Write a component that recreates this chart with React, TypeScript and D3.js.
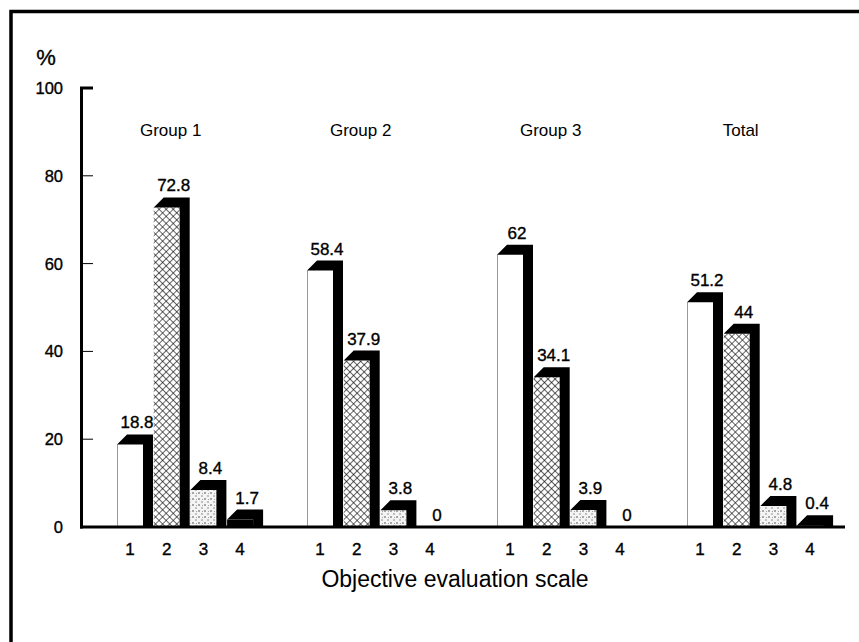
import React from 'react';
import * as d3 from 'd3';

// data
const groups = ['Group 1', 'Group 2', 'Group 3', 'Total'];
const scaleCats = ['1', '2', '3', '4'];
const values: number[][] = [
  [18.8, 72.8, 8.4, 1.7],
  [58.4, 37.9, 3.8, 0],
  [62, 34.1, 3.9, 0],
  [51.2, 44, 4.8, 0.4],
];
const yTicks = [0, 20, 40, 60, 80, 100];

const W = 859;
const H = 642;
const FONT = '"Liberation Sans", Arial, Helvetica, sans-serif';
const FRONT = 26;
const DEPTH = 10;

const App: React.FC = () => {
  const y = d3.scaleLinear().domain([0, 100]).range([527, 88]);
  const xGroup = d3.scaleBand().domain(groups).range([98, 858]);
  const xBar = d3.scaleBand().domain(scaleCats).range([19, 19 + 4 * 36.7]);

  const fills = ['#fff', 'url(#hatch)', 'url(#stipple)', '#000'];

  const bars = groups.flatMap((g, gi) =>
    scaleCats.map((c, ci) => {
      const v = values[gi][ci];
      const x0 = (xGroup(g) ?? 0) + (xBar(c) ?? 0);
      return { g, c, v, x0, ci };
    })
  );

  // scanned text looks a bit heavier than plain Arial
  const ink = { stroke: '#000', strokeWidth: 0.35 };

  return (
    <svg width={W} height={H} style={{ position: 'absolute', left: 0, top: 0 }} fontFamily={FONT}>
      <defs>
        <pattern id="hatch" width={5} height={5} patternUnits="userSpaceOnUse" patternTransform="rotate(45)">
          <rect width={5} height={5} fill="#fff" />
          <line x1={0} y1={0} x2={0} y2={5} stroke="#000" strokeWidth={1.2} />
          <line x1={0} y1={0} x2={5} y2={0} stroke="#000" strokeWidth={1.2} />
        </pattern>
        <pattern id="stipple" width={6} height={6} patternUnits="userSpaceOnUse">
          <rect width={6} height={6} fill="#f4f4f4" />
          <circle cx={1} cy={1} r={0.8} fill="#444" />
          <circle cx={4} cy={4} r={0.7} fill="#666" />
          <circle cx={4.5} cy={1.5} r={0.5} fill="#888" />
        </pattern>
      </defs>
      <rect width={W} height={H} fill="#fff" />

      {/* frame */}
      <path d={`M11,${H} L11,11.5 L${W},11.5`} fill="none" stroke="#000" strokeWidth={3.5} />

      {/* y axis */}
      <line x1={81.5} x2={81.5} y1={y(100)} y2={y(0) + 1.5} stroke="#000" strokeWidth={3} />
      <line x1={80} x2={93} y1={y(100)} y2={y(100)} stroke="#000" strokeWidth={3} />
      {yTicks.map((t) => (
        <g key={t}>
          {t > 0 && t < 100 && (
            <line x1={82} x2={93} y1={y(t)} y2={y(t)} stroke="#000" strokeWidth={1} />
          )}
          <text x={63} y={y(t)} dy="0.36em" textAnchor="end" fontSize={16.5} {...ink}>
            {t}
          </text>
        </g>
      ))}
      <text x={46} y={65} textAnchor="middle" fontSize={22} {...ink}>%</text>

      {/* bars */}
      {bars.map((b) => {
        if (b.v <= 0) return null;
        const yv = y(b.v);
        const base = y(0);
        const x0 = b.x0;
        const x1 = x0 + FRONT;
        return (
          <g key={b.g + b.c}>
            <rect x={x0} y={yv} width={FRONT} height={base - yv} fill={fills[b.ci]} />
            {b.ci === 0 && <line x1={x0 + 0.5} x2={x0 + 0.5} y1={yv} y2={base} stroke="#999" strokeWidth={1} />}
            <path
              d={`M${x0},${yv} L${x0 + DEPTH},${yv - DEPTH} L${x1 + DEPTH},${yv - DEPTH} L${x1 + DEPTH},${base} L${x1},${base} L${x1},${yv} Z`}
              fill="#000"
            />
          </g>
        );
      })}

      {/* value labels, centred over the top face */}
      {bars.map((b) => (
        <text
          key={'v' + b.g + b.c}
          x={b.x0 + FRONT / 2 + 7}
          y={y(b.v) - (b.v > 0 ? DEPTH : 0) - 6}
          textAnchor="middle"
          fontSize={17}
          {...ink}
        >
          {b.v}
        </text>
      ))}

      {/* x axis baseline */}
      <line x1={80} x2={845} y1={y(0)} y2={y(0)} stroke="#000" strokeWidth={3} />

      {/* category labels */}
      {bars.map((b) => (
        <text key={'c' + b.g + b.c} x={b.x0 + FRONT / 2} y={555} textAnchor="middle" fontSize={17} {...ink}>
          {b.c}
        </text>
      ))}

      {/* group titles */}
      {groups.map((g) => (
        <text key={g} x={(xGroup(g) ?? 0) + (xBar('2') ?? 0) + FRONT / 2 + 4} y={136} textAnchor="middle" fontSize={17}>
          {g}
        </text>
      ))}

      <text x={455} y={587} textAnchor="middle" fontSize={23}>
        Objective evaluation scale
      </text>
    </svg>
  );
};

export default App;
